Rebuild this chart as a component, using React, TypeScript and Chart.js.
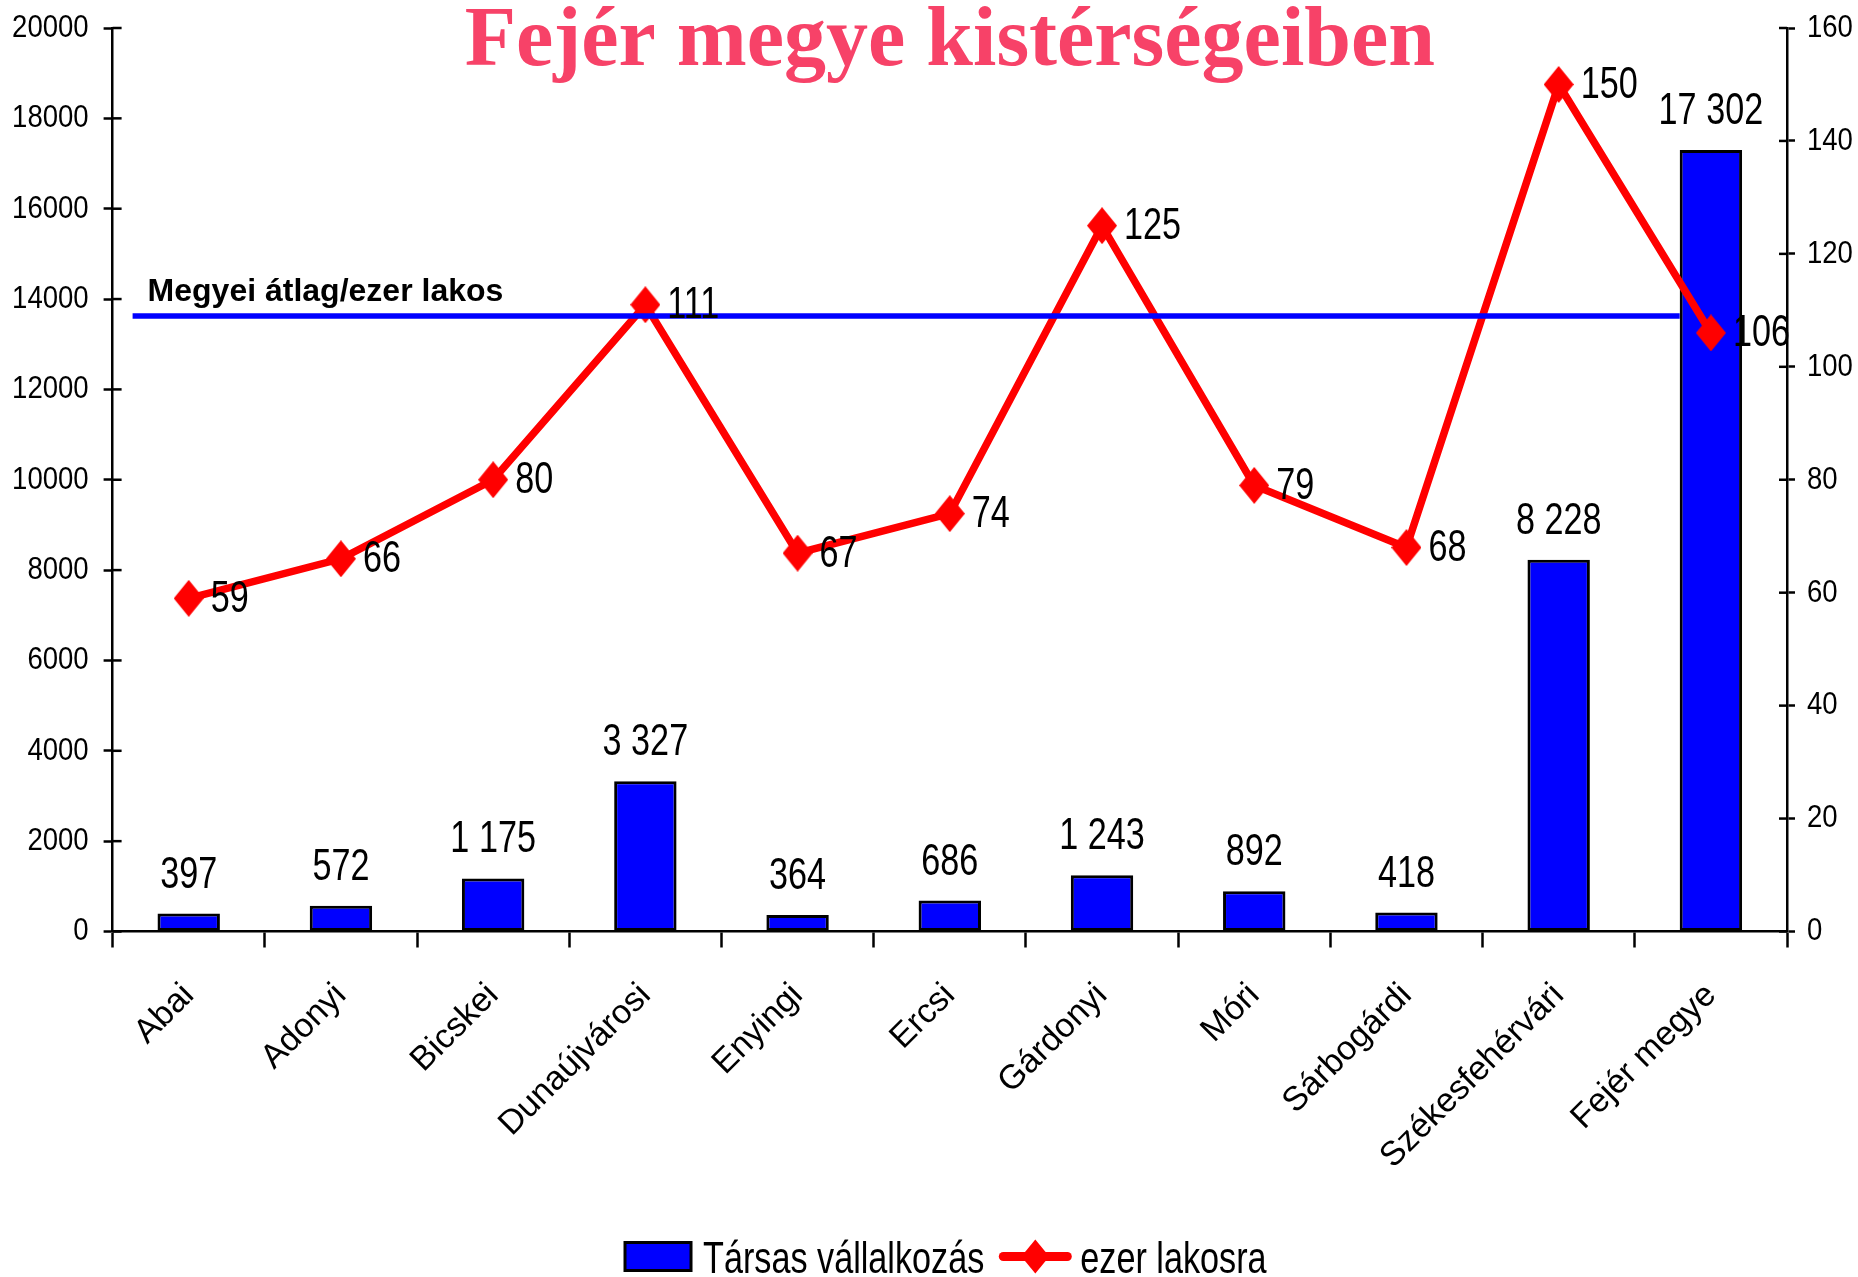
import React, { useEffect, useRef } from "react";
import { Chart, registerables } from "chart.js";

Chart.register(...registerables);

const categories = [
  "Abai",
  "Adonyi",
  "Bicskei",
  "Dunaújvárosi",
  "Enyingi",
  "Ercsi",
  "Gárdonyi",
  "Móri",
  "Sárbogárdi",
  "Székesfehérvári",
  "Fejér megye",
];
const tarsasValues = [397, 572, 1175, 3327, 364, 686, 1243, 892, 418, 8228, 17302];
const ezerLakosraValues = [59, 66, 80, 111, 67, 74, 125, 79, 68, 150, 106];
const megyeiAtlag = 109;
const megyeiAtlagLabel = "Megyei átlag/ezer lakos";
const titleText = "Fejér megye kistérségeiben";
const barLabel = "Társas vállalkozás";
const lineLabel = "ezer lakosra";

const SANS = "'Liberation Sans', Arial, sans-serif";
const SERIF = "'Liberation Serif', 'Times New Roman', serif";
const BIG = { size: 45, squeeze: 0.76 };
const TICK = { size: 32, squeeze: 0.86 };

const fmt = (v: number) => String(v).replace(/\B(?=(\d{3})+(?!\d))/g, " ");

function narrowText(
  ctx: CanvasRenderingContext2D,
  text: string,
  x: number,
  y: number,
  f: { size: number; squeeze: number },
  align: "left" | "center" | "right",
  baseline: CanvasTextBaseline
) {
  ctx.save();
  ctx.font = `${f.size}px ${SANS}`;
  ctx.textBaseline = baseline;
  ctx.textAlign = "left";
  const w = ctx.measureText(text).width * f.squeeze;
  const x0 = align === "center" ? x - w / 2 : align === "right" ? x - w : x;
  ctx.translate(x0, y);
  ctx.scale(f.squeeze, 1);
  ctx.fillStyle = "#000";
  ctx.fillText(text, 0, 0);
  ctx.restore();
  return w;
}

function textWidth(ctx: CanvasRenderingContext2D, text: string, f: { size: number; squeeze: number }) {
  ctx.save();
  ctx.font = `${f.size}px ${SANS}`;
  const w = ctx.measureText(text).width * f.squeeze;
  ctx.restore();
  return w;
}

function makeDiamond(hw: number, hh: number) {
  const c = document.createElement("canvas");
  c.width = Math.ceil(hw * 2);
  c.height = Math.ceil(hh * 2);
  const g = c.getContext("2d")!;
  g.fillStyle = "#FF0000";
  g.beginPath();
  g.moveTo(hw, 0);
  g.lineTo(hw * 2, hh);
  g.lineTo(hw, hh * 2);
  g.lineTo(0, hh);
  g.closePath();
  g.fill();
  return c;
}

const decorPlugin = {
  id: "decor",
  afterDatasetsDraw(chart: any) {
    const ctx: CanvasRenderingContext2D = chart.ctx;
    const area = chart.chartArea;
    const ys = chart.scales.y;
    const y1 = chart.scales.y1;
    const barMeta = chart.getDatasetMeta(0);
    const lineMeta = chart.getDatasetMeta(1);

    // average line
    const lastBar = barMeta.data[barMeta.data.length - 1];
    const yAvg = y1.getPixelForValue(megyeiAtlag);
    const xEnd = lastBar.x - lastBar.width / 2;
    ctx.save();
    ctx.strokeStyle = "#0000FF";
    ctx.lineWidth = 5.5;
    ctx.beginPath();
    ctx.moveTo(area.left + 20, yAvg);
    ctx.lineTo(xEnd, yAvg);
    ctx.stroke();
    ctx.fillStyle = "#000";
    ctx.font = `bold 32px ${SANS}`;
    ctx.textAlign = "left";
    ctx.textBaseline = "alphabetic";
    ctx.fillText(megyeiAtlagLabel, area.left + 35, yAvg - 15);
    ctx.restore();

    // bar labels
    barMeta.data.forEach((el: any, i: number) => {
      narrowText(ctx, fmt(tarsasValues[i]), el.x, el.y - 26, BIG, "center", "alphabetic");
    });

    // line labels
    lineMeta.data.forEach((el: any, i: number) => {
      narrowText(ctx, fmt(ezerLakosraValues[i]), el.x + 22, el.y + 1, BIG, "left", "middle");
    });

    // tick labels (narrow)
    ys.ticks.forEach((t: any) => {
      const p = ys.getPixelForValue(t.value);
      narrowText(ctx, String(t.value), area.left - 24, p, TICK, "right", "middle");
    });
    y1.ticks.forEach((t: any) => {
      const p = y1.getPixelForValue(t.value);
      narrowText(ctx, String(t.value), area.right + 20, p, TICK, "left", "middle");
    });

    // inward tick marks
    ctx.save();
    ctx.strokeStyle = "#000";
    ctx.lineWidth = 2.5;
    ys.ticks.forEach((t: any) => {
      const p = ys.getPixelForValue(t.value);
      ctx.beginPath();
      ctx.moveTo(area.left, p);
      ctx.lineTo(area.left + 9, p);
      ctx.stroke();
    });
    y1.ticks.forEach((t: any) => {
      const p = y1.getPixelForValue(t.value);
      ctx.beginPath();
      ctx.moveTo(area.right - 8, p);
      ctx.lineTo(area.right, p);
      ctx.stroke();
    });
    ctx.restore();
  },
  afterDraw(chart: any) {
    const ctx: CanvasRenderingContext2D = chart.ctx;
    const area = chart.chartArea;
    const cx = (area.left + area.right) / 2;

    // title
    ctx.save();
    ctx.fillStyle = "rgb(247,66,104)";
    ctx.font = `bold 84px ${SERIF}`;
    ctx.textAlign = "center";
    ctx.textBaseline = "alphabetic";
    ctx.fillText(titleText, cx, area.top + 37);
    ctx.restore();

    // legend
    const boxW = 66;
    const boxH = 28;
    const iconW = 72;
    const w1 = textWidth(ctx, barLabel, BIG);
    const w2 = textWidth(ctx, lineLabel, BIG);
    const total = boxW + 12 + w1 + 15 + iconW + 9 + w2;
    let x = cx - total / 2 - 4;
    const ly = area.bottom + 325;

    ctx.save();
    ctx.fillStyle = "#0000FF";
    ctx.fillRect(x, ly - boxH / 2, boxW, boxH);
    ctx.strokeStyle = "#000";
    ctx.lineWidth = 3;
    ctx.strokeRect(x, ly - boxH / 2, boxW, boxH);
    ctx.restore();
    x += boxW + 12;
    narrowText(ctx, barLabel, x, ly + 16, BIG, "left", "alphabetic");
    x += w1 + 15;

    ctx.save();
    ctx.strokeStyle = "#FF0000";
    ctx.lineWidth = 9;
    ctx.lineCap = "round";
    ctx.beginPath();
    ctx.moveTo(x + 4, ly);
    ctx.lineTo(x + iconW - 4, ly);
    ctx.stroke();
    ctx.fillStyle = "#FF0000";
    const mx = x + iconW / 2;
    ctx.beginPath();
    ctx.moveTo(mx, ly - 17);
    ctx.lineTo(mx + 14, ly);
    ctx.lineTo(mx, ly + 17);
    ctx.lineTo(mx - 14, ly);
    ctx.closePath();
    ctx.fill();
    ctx.restore();
    x += iconW + 9;
    narrowText(ctx, lineLabel, x, ly + 16, BIG, "left", "alphabetic");
  },
};

export default function App() {
  const ref = useRef<HTMLCanvasElement | null>(null);

  useEffect(() => {
    document.body.style.margin = "0";
    const diamond = makeDiamond(15, 18.5);
    const chart = new Chart(ref.current!, {
      type: "bar",
      data: {
        labels: categories,
        datasets: [
          {
            type: "bar",
            label: barLabel,
            data: tarsasValues,
            backgroundColor: "#0000FF",
            borderColor: "#000000",
            borderWidth: 3,
            borderSkipped: false,
            categoryPercentage: 1,
            barPercentage: 0.41,
            yAxisID: "y",
            order: 2,
          },
          {
            type: "line",
            label: lineLabel,
            data: ezerLakosraValues,
            borderColor: "#FF0000",
            backgroundColor: "#FF0000",
            borderWidth: 7.5,
            pointStyle: diamond,
            pointRadius: 16,
            pointBorderWidth: 0,
            pointBackgroundColor: "#FF0000",
            tension: 0,
            yAxisID: "y1",
            order: 1,
          } as any,
        ],
      },
      options: {
        animation: false,
        responsive: true,
        maintainAspectRatio: false,
        layout: { padding: { left: 34, right: 0, top: 28, bottom: 62 } },
        plugins: {
          tooltip: { enabled: false },
          title: { display: false },
          legend: { display: false },
        },
        scales: {
          x: {
            grid: {
              display: true,
              drawOnChartArea: false,
              drawTicks: true,
              tickLength: 16,
              tickWidth: 2.5,
              tickColor: "#000",
              offset: true,
            },
            border: { display: true, color: "#000", width: 2.5 },
            ticks: {
              color: "#000",
              font: { family: SANS, size: 34 },
              minRotation: 45,
              maxRotation: 45,
              padding: 28,
              autoSkip: false,
            },
            afterFit: (s: any) => {
              s.height = 283.5;
            },
          },
          y: {
            position: "left",
            min: 0,
            max: 20000,
            grid: {
              display: true,
              drawOnChartArea: false,
              drawTicks: true,
              tickLength: 9,
              tickWidth: 2.5,
              tickColor: "#000",
            },
            border: { display: true, color: "#000", width: 2.5 },
            ticks: {
              stepSize: 2000,
              color: "rgba(0,0,0,0)",
              padding: 4,
              font: { family: SANS, size: 10 },
            },
            afterFit: (s: any) => {
              s.width = 78.6;
            },
          },
          y1: {
            position: "right",
            min: 0,
            max: 160,
            grid: {
              display: true,
              drawOnChartArea: false,
              drawTicks: true,
              tickLength: 8,
              tickWidth: 2.5,
              tickColor: "#000",
            },
            border: { display: true, color: "#000", width: 2.5 },
            ticks: {
              stepSize: 20,
              color: "rgba(0,0,0,0)",
              padding: 4,
              font: { family: SANS, size: 10 },
            },
            afterFit: (s: any) => {
              s.width = 71;
            },
          },
        },
      },
      plugins: [decorPlugin],
    });
    return () => chart.destroy();
  }, []);

  return (
    <div style={{ width: 1858, height: 1277, position: "relative", background: "#fff" }}>
      <canvas ref={ref} />
    </div>
  );
}
